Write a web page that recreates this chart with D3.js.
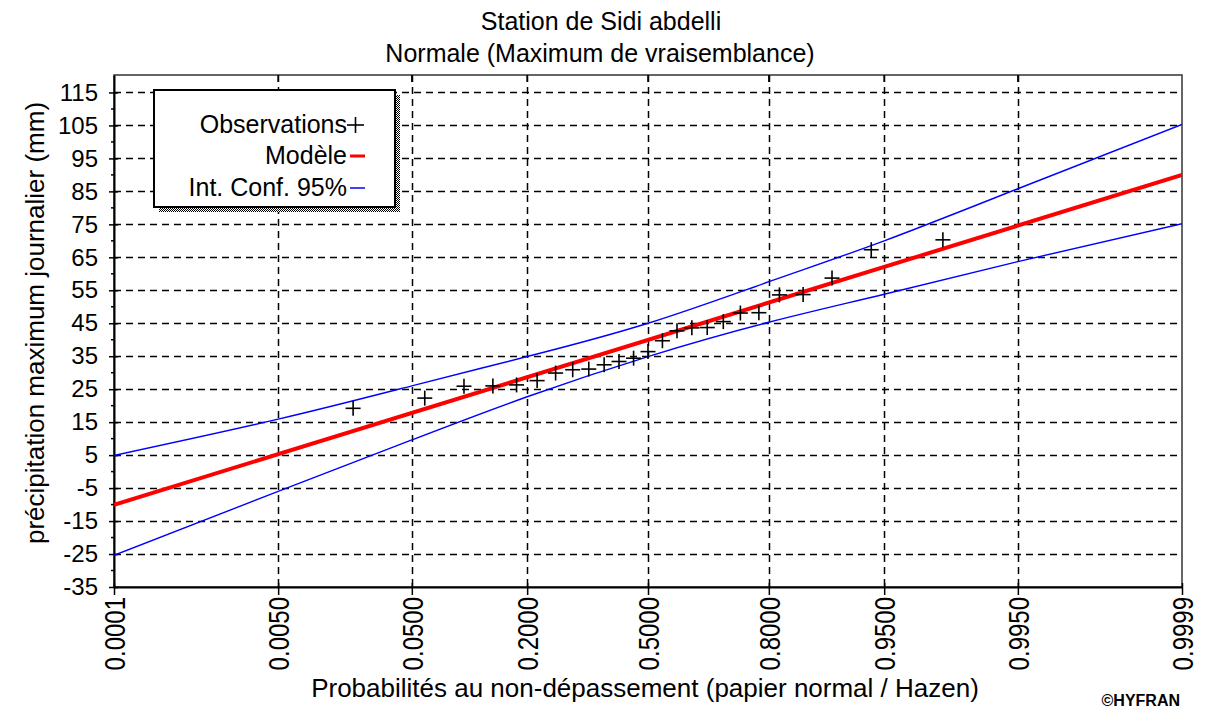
<!DOCTYPE html>
<html>
<head>
<meta charset="utf-8">
<script src="https://cdn.jsdelivr.net/npm/d3@7/dist/d3.min.js"></script>
<style>
  html, body { margin: 0; padding: 0; background: #fff; }
  svg { display: block; }
  text { font-family: "Liberation Sans", Arial, sans-serif; fill: #000; }
</style>
</head>
<body>
<svg id="chart" width="1215" height="713"></svg>
<script>
// Probability ticks on normal paper
const tickProbs  = [0.0001, 0.005, 0.05, 0.2, 0.5, 0.8, 0.95, 0.995, 0.9999];
const tickLabels = ["0.0001", "0.0050", "0.0500", "0.2000", "0.5000", "0.8000", "0.9500", "0.9950", "0.9999"];

// Value ticks (mm)
const yTicks      = [-35, -25, -15, -5, 5, 15, 25, 35, 45, 55, 65, 75, 85, 95, 105, 115];
const yMinorTicks = [-30, -20, -10, 0, 10, 20, 30, 40, 50, 60, 70, 80, 90, 100, 110];

// Observed annual maxima (Hazen plotting positions, n = 25)
const obsProb  = [0.02, 0.06, 0.10, 0.14, 0.18, 0.22, 0.26, 0.30, 0.34, 0.38, 0.42, 0.46, 0.50,
                  0.54, 0.58, 0.62, 0.66, 0.70, 0.74, 0.78, 0.82, 0.86, 0.90, 0.94, 0.98];
const obsValue = [19.2, 22.3, 25.9, 26.0, 26.3, 27.6, 29.9, 30.9, 31.1, 32.4, 33.4, 34.4, 36.4,
                  39.7, 42.7, 43.6, 43.7, 45.5, 48.1, 48.2, 53.6, 53.7, 58.7, 67.3, 70.3];

// Fitted normal model (straight line on normal paper)
const modelProb  = [0.0001, 0.9999];
const modelValue = [-10.1, 90.0];

// 95% confidence band
const ciProb  = [0.0001, 0.005, 0.05, 0.2, 0.5, 0.8, 0.95, 0.995, 0.9999];
const ciUpper = [4.9, 15.9, 26.0, 34.9, 45.0, 57.6, 70.0, 85.8, 105.3];
const ciLower = [-25.4, -6.0, 9.6, 22.7, 34.9, 45.3, 53.8, 63.7, 75.2];

// Inverse standard normal CDF (Acklam)
function probit(p) {
  const a = [-3.969683028665376e+01, 2.209460984245205e+02, -2.759285104469687e+02,
             1.383577518672690e+02, -3.066479806614716e+01, 2.506628277459239e+00];
  const b = [-5.447609879822406e+01, 1.615858368580409e+02, -1.556989798598866e+02,
             6.680131188771972e+01, -1.328068155288572e+01];
  const c = [-7.784894002430293e-03, -3.223964580411365e-01, -2.400758277161838e+00,
             -2.549671636089858e+00, 4.374664141464968e+00, 2.938163982698783e+00];
  const d = [7.784695709041462e-03, 3.224671290700398e-01, 2.445134137142996e+00,
             3.754408661907416e+00];
  const pl = 0.02425, ph = 1 - pl;
  let q, r;
  if (p < pl) {
    q = Math.sqrt(-2 * Math.log(p));
    return (((((c[0]*q + c[1])*q + c[2])*q + c[3])*q + c[4])*q + c[5]) /
           ((((d[0]*q + d[1])*q + d[2])*q + d[3])*q + 1);
  } else if (p <= ph) {
    q = p - 0.5; r = q * q;
    return (((((a[0]*r + a[1])*r + a[2])*r + a[3])*r + a[4])*r + a[5]) * q /
           (((((b[0]*r + b[1])*r + b[2])*r + b[3])*r + b[4])*r + 1);
  } else {
    q = Math.sqrt(-2 * Math.log(1 - p));
    return -(((((c[0]*q + c[1])*q + c[2])*q + c[3])*q + c[4])*q + c[5]) /
            ((((d[0]*q + d[1])*q + d[2])*q + d[3])*q + 1);
  }
}

const plot = { left: 114, right: 1182, top: 75, bottom: 587 };

const zScale = d3.scaleLinear()
  .domain([probit(0.0001), probit(0.9999)])
  .range([plot.left, plot.right]);
const xp = p => zScale(probit(p));

const y = d3.scaleLinear()
  .domain([-35, 120.3])
  .range([plot.bottom, plot.top]);

const svg = d3.select("#chart");

// Titles
svg.append("text").attr("x", 601).attr("y", 30)
  .attr("text-anchor", "middle").style("font-size", "25px")
  .text("Station de Sidi abdelli");
svg.append("text").attr("x", 600).attr("y", 62)
  .attr("text-anchor", "middle").style("font-size", "25px")
  .text("Normale (Maximum de vraisemblance)");

// Clip for the plotting area
svg.append("defs").append("clipPath").attr("id", "plotClip")
  .append("rect")
  .attr("x", plot.left).attr("y", plot.top)
  .attr("width", plot.right - plot.left).attr("height", plot.bottom - plot.top);

// Dithered shadow pattern for the legend
const pat = svg.select("defs").append("pattern")
  .attr("id", "dither").attr("width", 2).attr("height", 2)
  .attr("patternUnits", "userSpaceOnUse");
pat.append("rect").attr("width", 2).attr("height", 2).attr("fill", "#fff");
pat.append("rect").attr("x", 0).attr("y", 0).attr("width", 1).attr("height", 1).attr("fill", "#000");
pat.append("rect").attr("x", 1).attr("y", 1).attr("width", 1).attr("height", 1).attr("fill", "#000");

// Grid
const grid = svg.append("g").attr("stroke", "#000").attr("stroke-width", 1.5)
  .attr("stroke-dasharray", "7,5").attr("fill", "none");
grid.selectAll("line.h").data(yTicks.filter(v => v !== -35)).join("line")
  .attr("class", "h")
  .attr("x1", plot.left).attr("x2", plot.right)
  .attr("y1", d => Math.round(y(d)) + 0.5).attr("y2", d => Math.round(y(d)) + 0.5);
grid.selectAll("line.v").data(tickProbs.slice(1, -1)).join("line")
  .attr("class", "v")
  .attr("x1", d => Math.round(xp(d)) + 0.5).attr("x2", d => Math.round(xp(d)) + 0.5)
  .attr("y1", plot.top).attr("y2", plot.bottom);

// Frame
svg.append("rect")
  .attr("x", plot.left).attr("y", plot.top)
  .attr("width", plot.right - plot.left).attr("height", plot.bottom - plot.top)
  .attr("fill", "none").attr("stroke", "#333").attr("stroke-width", 1.5);

// Y axis
const yAxis = d3.axisLeft(y).tickValues(yTicks).tickSize(0).tickPadding(16)
  .tickFormat(d => String(d));
const gy = svg.append("g").attr("transform", `translate(${plot.left},0)`).call(yAxis);
gy.select(".domain").attr("stroke", "#000").attr("stroke-width", 2);
gy.selectAll(".tick text").style("font-size", "24px").attr("font-family", null);
gy.selectAll(".tick").append("line")
  .attr("x1", -5).attr("x2", 4).attr("stroke", "#000").attr("stroke-width", 1.5);
svg.append("g").selectAll("line").data(yMinorTicks).join("line")
  .attr("x1", plot.left - 3).attr("x2", plot.left)
  .attr("y1", d => y(d)).attr("y2", d => y(d))
  .attr("stroke", "#000").attr("stroke-width", 1.5);

// X axis (probability ticks positioned by normal quantile)
const xAxis = d3.axisBottom(zScale)
  .tickValues(tickProbs.map(probit))
  .tickSize(0)
  .tickFormat((d, i) => tickLabels[i]);
const gx = svg.append("g").attr("transform", `translate(0,${plot.bottom})`).call(xAxis);
gx.select(".domain").attr("stroke", "#000").attr("stroke-width", 2);
gx.selectAll(".tick line").remove();
gx.selectAll(".tick").append("line")
  .attr("y1", -4).attr("y2", 8).attr("stroke", "#000").attr("stroke-width", 1.5);
gx.selectAll(".tick text")
  .attr("y", null).attr("dy", null)
  .attr("text-anchor", "end")
  .attr("transform", "translate(10.5,10) rotate(-90) scale(0.8,1)")
  .style("font-size", "30px").attr("font-family", null);
// inward ticks on the top edge
svg.append("g").selectAll("line").data(tickProbs.slice(1, -1)).join("line")
  .attr("x1", d => xp(d)).attr("x2", d => xp(d))
  .attr("y1", plot.top).attr("y2", plot.top + 7)
  .attr("stroke", "#000").attr("stroke-width", 1.5);

// Axis titles
svg.append("text")
  .attr("transform", "translate(44,323) rotate(-90)")
  .attr("text-anchor", "middle").style("font-size", "26px")
  .text("précipitation maximum journalier (mm)");
svg.append("text").attr("x", 645).attr("y", 697)
  .attr("text-anchor", "middle").style("font-size", "26px")
  .text("Probabilités au non-dépassement (papier normal / Hazen)");
svg.append("text").attr("x", 1180).attr("y", 706)
  .attr("text-anchor", "end").style("font-size", "16px").style("font-weight", "bold")
  .text("©HYFRAN");

// Data layers
const layer = svg.append("g").attr("clip-path", "url(#plotClip)");

const line = d3.line()
  .x(d => xp(d[0]))
  .y(d => y(d[1]))
  .curve(d3.curveNatural);

layer.append("path")
  .datum(ciProb.map((p, i) => [p, ciUpper[i]]))
  .attr("d", line).attr("fill", "none").attr("stroke", "#0000ff").attr("stroke-width", 1.4);
layer.append("path")
  .datum(ciProb.map((p, i) => [p, ciLower[i]]))
  .attr("d", line).attr("fill", "none").attr("stroke", "#0000ff").attr("stroke-width", 1.4);

layer.append("path")
  .datum(modelProb.map((p, i) => [p, modelValue[i]]))
  .attr("d", d3.line().x(d => xp(d[0])).y(d => y(d[1])))
  .attr("fill", "none").attr("stroke", "#ff0000").attr("stroke-width", 4);

const cross = 7.5;
const obs = layer.append("g").attr("stroke", "#000").attr("stroke-width", 1.6);
obsProb.forEach((p, i) => {
  const cx = xp(p), cy = y(obsValue[i]);
  obs.append("line").attr("x1", cx - cross).attr("x2", cx + cross).attr("y1", cy).attr("y2", cy);
  obs.append("line").attr("x1", cx).attr("x2", cx).attr("y1", cy - cross).attr("y2", cy + cross);
});

// Legend
const lg = { x: 154, y: 90, w: 241, h: 117 };
svg.append("rect").attr("x", lg.x + 5).attr("y", lg.y + 5).attr("width", lg.w).attr("height", lg.h)
  .attr("fill", "url(#dither)");
svg.append("rect").attr("x", lg.x).attr("y", lg.y).attr("width", lg.w).attr("height", lg.h)
  .attr("fill", "#fff").attr("stroke", "#000").attr("stroke-width", 2);

const legendItems = [
  { label: "Observations", type: "cross", color: "#000", ty: 133 },
  { label: "Modèle", type: "line", color: "#ff0000", width: 3, ty: 164 },
  { label: "Int. Conf. 95%", type: "line", color: "#0000ff", width: 1.5, ty: 196 }
];
legendItems.forEach(it => {
  svg.append("text").attr("x", 347).attr("y", it.ty)
    .attr("text-anchor", "end").style("font-size", "25px").text(it.label);
  const my = it.ty - 8;
  if (it.type === "cross") {
    svg.append("line").attr("x1", 347).attr("x2", 364).attr("y1", my).attr("y2", my)
      .attr("stroke", it.color).attr("stroke-width", 1.6);
    svg.append("line").attr("x1", 355.5).attr("x2", 355.5).attr("y1", my - 8).attr("y2", my + 8)
      .attr("stroke", it.color).attr("stroke-width", 1.6);
  } else {
    svg.append("line").attr("x1", 350).attr("x2", 365).attr("y1", my).attr("y2", my)
      .attr("stroke", it.color).attr("stroke-width", it.width);
  }
});
</script>
</body>
</html>
